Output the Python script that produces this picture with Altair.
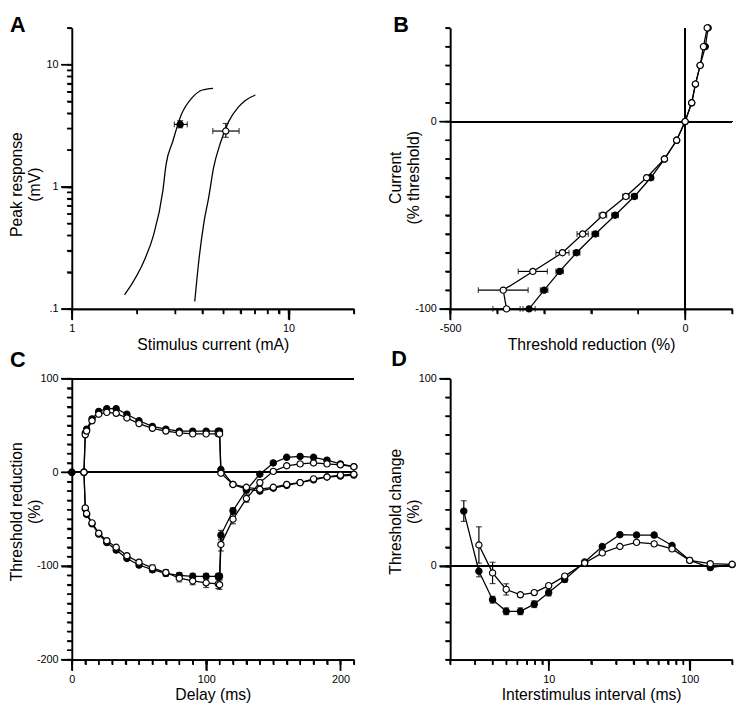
import altair as alt
import pandas as pd

FONT = "Liberation Sans"
W, H = 287, 286

# ---------------- Panel A : stimulus-response curves ----------------
a_curve1_x = [1.75, 2.18, 2.37, 2.63, 2.72, 2.92, 3.19, 3.60, 4.00, 4.48]
a_curve1_y = [0.13, 0.26, 0.39, 0.93, 1.52, 2.35, 3.85, 5.40, 6.20, 6.40]
a_curve2_x = [3.69, 3.86, 4.06, 4.28, 4.51, 4.84, 5.28, 5.86, 6.29, 7.03]
a_curve2_y = [0.115, 0.255, 0.50, 0.82, 1.44, 2.27, 3.40, 4.49, 5.07, 5.64]
a_pt_kind = ["filled", "open"]
a_pt_x = [3.16, 5.13]
a_pt_y = [3.24, 2.86]
a_pt_xlo = [2.97, 4.47]
a_pt_xhi = [3.41, 5.91]
a_pt_ylo = [3.04, 2.54]
a_pt_yhi = [3.48, 3.30]

# ---------------- Panel B : current-threshold relationship ----------------
b_current = [50, 40, 30, 20, 10, 0, -10, -20, -30, -40, -50, -60, -70, -80, -90, -100]
b_filled = [49, 43, 32, 22, 14, 0, -18, -44, -73, -108, -149, -191, -231, -267, -300, -332]
b_filled_err = [2, 2, 2, 2, 2, 0, 2, 3, 5, 6, 7, 7, 7, 8, 8, 13]
b_open = [47, 39, 32, 22, 14, 0, -18, -44, -82, -126, -175, -218, -261, -324, -387, -380]
b_open_err = [2, 2, 2, 2, 2, 0, 3, 3, 4, 7, 8, 12, 14, 31, 53, 29]

# ---------------- Panel C : threshold electrotonus ----------------
c_delay = [0, 9, 10, 11, 15, 20, 26, 33, 41, 50, 60, 70, 80, 90, 100, 109, 110, 111,
           120, 130, 140, 150, 160, 170, 180, 190, 200, 210]
c_ted_filled = [0, 0, 42, 46, 57, 65, 68, 68, 62, 55, 49, 46, 44, 44, 44, 44, 44, 3,
                -13, -18, -20, -17, -14, -11, -8, -5, -4, -3]
c_teh_filled = [0, 0, -39, -45, -55, -66, -75, -83, -92, -99, -104, -108, -110, -111, -111, -111, -111, -67,
                -41, -19, -2, 10, 16, 17, 16, 13, 9, 6]
c_teh_filled_err = [0, 0, 1, 1, 1, 1, 1, 2, 2, 2, 3, 3, 3, 3, 3, 3, 3, 5,
                    3, 3, 2, 2, 1, 1, 1, 1, 1, 1]
# open series start at 9 ms
c_ted_open = [0, 40, 44, 55, 62, 64, 63, 58, 52, 47, 44, 42, 41, 41, 41, 41, -1,
              -13, -16, -18, -16, -13, -11, -7, -5, -3, -2]
c_teh_open = [0, -38, -44, -54, -65, -73, -80, -89, -96, -102, -107, -113, -116, -118, -119, -120, -77,
              -50, -28, -11, 1, 7, 9, 10, 9, 8, 6]
c_teh_open_err = [0, 1, 1, 1, 1, 1, 1, 2, 2, 3, 3, 4, 4, 5, 5, 5, 7,
                  5, 4, 3, 2, 2, 2, 2, 2, 1, 1]

# ---------------- Panel D : recovery cycle ----------------
d_isi = [2.5, 3.2, 4, 5, 6.3, 7.9, 10, 13, 18, 24, 32, 42, 56, 75, 100, 140, 200]
d_filled = [29.3, -2.8, -18, -24.2, -24.2, -20.4, -14.2, -7.2, 2.1, 10.4, 16.7, 16.5, 16.5, 10.9, 3, -0.9, 0.7]
d_filled_err = [5.5, 3, 1.8, 1.8, 1.8, 1.8, 1.8, 1.5, 1, 1, 1, 1, 1, 1, 1, 1, 1]
d_isi_open = [3.2, 4, 5, 6.3, 7.9, 10, 13, 18, 24, 32, 42, 56, 75, 100, 140, 200]
d_open = [11.2, -3.7, -12.5, -15.4, -14.2, -10.5, -5.4, 1.6, 7, 10.4, 12.6, 11.8, 9.1, 3, 1.2, 0.9]
d_open_err = [9.7, 5.7, 3, 1, 1, 1, 1, 1, 1, 1, 1, 1, 1, 1, 1, 1]

# ---------------- axis ticks / labels ----------------
a_x_ticks = [1, 2, 3, 4, 5, 6, 7, 8, 9, 10, 20]
a_x_major = [1, 10]
a_x_labels = ["1", "10"]
a_y_ticks = [0.1, 0.2, 0.3, 0.4, 0.5, 0.6, 0.7, 0.8, 0.9, 1, 2, 3, 4, 5, 6, 7, 8, 9, 10, 20]
a_y_major = [0.1, 1, 10]
a_y_labels = [".1", "1", "10"]
b_x_ticks = [-500, -400, -300, -200, -100, 0, 100]
b_x_major = [-500, 0]
b_x_labels = ["-500", "0"]
b_y_ticks = list(range(-100, 51, 10))
b_y_major = [-100, 0]
b_y_labels = ["-100", "0"]
c_x_ticks = list(range(0, 211, 10))
c_x_major = [0, 100, 200]
c_x_labels = ["0", "100", "200"]
c_y_ticks = list(range(-200, 101, 10))
c_y_major = [-200, -100, 0, 100]
c_y_labels = ["-200", "-100", "0", "100"]
d_x_ticks = [2, 3, 4, 5, 6, 7, 8, 9, 10, 20, 30, 40, 50, 60, 70, 80, 90, 100, 200]
d_x_major = [10, 100]
d_x_labels = ["10", "100"]
d_y_ticks = list(range(-50, 101, 10))
d_y_major = [0, 100]
d_y_labels = ["0", "100"]
panel_letters = ["A", "B", "C", "D"]

MINOR, MAJOR = 5, 11
AXSTYLE = dict(domainColor="black", domainWidth=1.6, ticks=True, tickColor="black", tickWidth=1.5,
               tickOpacity=1, labelFont=FONT, labelFontSize=11, labelColor="black", labelPadding=3,
               labelFlush=False, labelOverlap=False, grid=False,
               titleFont=FONT, titleFontSize=16, titleFontWeight="normal", titleColor="black")


def label_expr(vals, texts):
    parts = [f"datum.value == {v} ? '{t}'" for v, t in zip(vals, texts)]
    return " : ".join(parts) + " : ''"


def axes(orient, ticks, major, texts, title, tx=None, ty=None):
    minor = alt.Axis(orient=orient, values=ticks, tickSize=MINOR, labels=False, title=None, **AXSTYLE)
    if orient == "left":
        kw = dict(titleX=tx, titleY=ty, titleAngle=-90, titleAlign="center",
                  titleBaseline="bottom", titleLineHeight=18)
    else:
        kw = dict(titlePadding=3)
    maj = alt.Axis(orient=orient, values=major, tickSize=MAJOR, labelExpr=label_expr(major, texts),
                   title=title, **kw, **AXSTYLE)
    return minor, maj


def tick_marks(xs, ys, x_ticks, x_major, y_ticks, y_major):
    """Axis tick marks (minor and major) at the scale positions of the tick values."""
    out = []
    for vals, ln in ((x_ticks, MINOR), (x_major, MAJOR)):
        out.append(alt.Chart(pd.DataFrame({"v": [float(v) for v in vals]})).mark_tick(
            orient="vertical", color="black", thickness=1.5, size=ln, clip=False, opacity=1).encode(
            x=alt.X("v:Q", scale=xs, axis=None), y=alt.value(H + ln / 2)))
    for vals, ln in ((y_ticks, MINOR), (y_major, MAJOR)):
        out.append(alt.Chart(pd.DataFrame({"v": [float(v) for v in vals]})).mark_tick(
            orient="horizontal", color="black", thickness=1.5, size=ln, clip=False, opacity=1).encode(
            y=alt.Y("v:Q", scale=ys, axis=None), x=alt.value(-ln / 2)))
    return out


def letter_layer(t, dx, dy):
    return alt.Chart(pd.DataFrame({"t": [t]})).mark_text(
        align="left", baseline="alphabetic", fontSize=22, fontWeight="bold", font=FONT, color="black"
    ).encode(text="t:N", x=alt.value(dx), y=alt.value(dy))


def series_df(kind, sid, xs, ys, errs=None):
    if errs is None:
        errs = [0] * len(xs)
    return pd.DataFrame({"x": xs, "y": ys, "kind": kind, "s": sid, "i": range(len(xs)),
                         "lo_y": [y - e for y, e in zip(ys, errs)],
                         "hi_y": [y + e for y, e in zip(ys, errs)],
                         "lo_x": [x - e for x, e in zip(xs, errs)],
                         "hi_x": [x + e for x, e in zip(xs, errs)],
                         "e": errs})


fill_enc = alt.Fill("kind:N", scale=alt.Scale(domain=["filled", "open"], range=["black", "white"]), legend=None)
LW = 1.3


def enc(ch, field, scale, axis=None):
    if ch == "x":
        return alt.X(f"{field}:Q", scale=scale, axis=axis)
    return alt.Y(f"{field}:Q", scale=scale, axis=axis)


def panel(df, xs, ys, xaxes, yaxes, err_dir, refs, ticks, letter):
    base = alt.Chart(df)
    layers = []
    for kind, val in refs:
        if kind == "v":
            layers.append(base.mark_rule(color="black", strokeWidth=1.3).encode(
                x=alt.datum(val, scale=xs, axis=None)))
        else:
            layers.append(base.mark_rule(color="black", strokeWidth=1.3).encode(
                y=alt.datum(val, scale=ys, axis=None)))
    layers.append(base.mark_line(color="black", strokeWidth=LW).encode(
        x=enc("x", "x", xs, xaxes[0]), y=enc("y", "y", ys, yaxes[0]), detail="s:N", order="i:Q"))
    errdf = base.transform_filter("datum.e > 0")
    tk = dict(color="black", size=6, thickness=1.2)
    if err_dir == "y":
        layers += [
            errdf.mark_rule(color="black", strokeWidth=1.2).encode(
                x=enc("x", "x", xs), y=enc("y", "lo_y", ys), y2="hi_y:Q"),
            errdf.mark_tick(orient="horizontal", **tk).encode(x=enc("x", "x", xs), y=enc("y", "lo_y", ys)),
            errdf.mark_tick(orient="horizontal", **tk).encode(x=enc("x", "x", xs), y=enc("y", "hi_y", ys)),
        ]
    else:
        layers += [
            errdf.mark_rule(color="black", strokeWidth=1.2).encode(
                y=enc("y", "y", ys), x=enc("x", "lo_x", xs), x2="hi_x:Q"),
            errdf.mark_tick(orient="vertical", **tk).encode(y=enc("y", "y", ys), x=enc("x", "lo_x", xs)),
            errdf.mark_tick(orient="vertical", **tk).encode(y=enc("y", "y", ys), x=enc("x", "hi_x", xs)),
        ]
    layers.append(base.mark_point(shape="circle", filled=True, size=40, stroke="black", strokeWidth=1.2,
                                  opacity=1).encode(x=enc("x", "x", xs, xaxes[1]),
                                                    y=enc("y", "y", ys, yaxes[1]), fill=fill_enc))
    layers += tick_marks(xs, ys, *ticks)
    layers.append(letter)
    return alt.layer(*layers).resolve_axis(x="independent", y="independent")


# ---------------- Panel A ----------------
a_xs = alt.Scale(type="log", domain=[1, 20], nice=False)
a_ys = alt.Scale(type="log", domain=[0.1, 20], nice=False)
a_xax = axes("bottom", a_x_ticks, a_x_major, a_x_labels, "Stimulus current (mA)")
a_yax = axes("left", a_y_ticks, a_y_major, a_y_labels, ["Peak response", "(mV)"], -48, 159)
a_curves = pd.concat([
    pd.DataFrame({"x": a_curve1_x, "y": a_curve1_y, "c": "c1", "i": range(len(a_curve1_x))}),
    pd.DataFrame({"x": a_curve2_x, "y": a_curve2_y, "c": "c2", "i": range(len(a_curve2_x))}),
])
a_pts = pd.DataFrame({"x": a_pt_x, "y": a_pt_y, "kind": a_pt_kind, "xlo": a_pt_xlo, "xhi": a_pt_xhi,
                      "ylo": a_pt_ylo, "yhi": a_pt_yhi})
ap = alt.Chart(a_pts)
tkA = dict(color="black", size=6, thickness=1.2)
a_layers = [
    alt.Chart(a_curves).mark_line(color="black", strokeWidth=LW, interpolate="monotone").encode(
        x=enc("x", "x", a_xs, a_xax[0]), y=enc("y", "y", a_ys, a_yax[0]), detail="c:N", order="i:Q"),
    ap.mark_rule(color="black", strokeWidth=1.2).encode(x=enc("x", "xlo", a_xs), x2="xhi:Q", y=enc("y", "y", a_ys)),
    ap.mark_rule(color="black", strokeWidth=1.2).encode(y=enc("y", "ylo", a_ys), y2="yhi:Q", x=enc("x", "x", a_xs)),
    ap.mark_tick(orient="vertical", **tkA).encode(x=enc("x", "xlo", a_xs), y=enc("y", "y", a_ys)),
    ap.mark_tick(orient="vertical", **tkA).encode(x=enc("x", "xhi", a_xs), y=enc("y", "y", a_ys)),
    ap.mark_tick(orient="horizontal", **tkA).encode(x=enc("x", "x", a_xs), y=enc("y", "ylo", a_ys)),
    ap.mark_tick(orient="horizontal", **tkA).encode(x=enc("x", "x", a_xs), y=enc("y", "yhi", a_ys)),
    ap.mark_point(shape="circle", filled=True, size=40, stroke="black", strokeWidth=1.2, opacity=1).encode(
        x=enc("x", "x", a_xs, a_xax[1]), y=enc("y", "y", a_ys, a_yax[1]), fill=fill_enc),
] + tick_marks(a_xs, a_ys, a_x_ticks, a_x_major, a_y_ticks, a_y_major) + [
    letter_layer(panel_letters[0], -63, 4)]
chart_a = alt.layer(*a_layers).resolve_axis(x="independent", y="independent").properties(width=W, height=H)

# ---------------- Panel B ----------------
b_xs = alt.Scale(domain=[-500, 100], nice=False, zero=False)
b_ys = alt.Scale(domain=[-100, 50], nice=False, zero=False)
b_xax = axes("bottom", b_x_ticks, b_x_major, b_x_labels, "Threshold reduction (%)")
b_yax = axes("left", b_y_ticks, b_y_major, b_y_labels, ["Current", "(% threshold)"], -47, 152)
b_df = pd.concat([series_df("filled", "bf", b_filled, b_current, b_filled_err),
                  series_df("open", "bo", b_open, b_current, b_open_err)])
chart_b = panel(b_df, b_xs, b_ys, b_xax, b_yax, "x", [("v", 0), ("h", 0)],
                (b_x_ticks, b_x_major, b_y_ticks, b_y_major),
                letter_layer(panel_letters[1], -58, 4)).properties(width=W, height=H)

# ---------------- Panel C ----------------
c_xs = alt.Scale(domain=[0, 210], nice=False, zero=False)
c_ys = alt.Scale(domain=[-200, 100], nice=False, zero=False)
c_xax = axes("bottom", c_x_ticks, c_x_major, c_x_labels, "Delay (ms)")
c_yax = axes("left", c_y_ticks, c_y_major, c_y_labels, ["Threshold reduction", "(%)"], -48, 135)
c_df = pd.concat([
    series_df("filled", "tedf", c_delay, c_ted_filled),
    series_df("filled", "tehf", c_delay, c_teh_filled, c_teh_filled_err),
    series_df("open", "tedo", c_delay[1:], c_ted_open),
    series_df("open", "teho", c_delay[1:], c_teh_open, c_teh_open_err),
])
chart_c = panel(c_df, c_xs, c_ys, c_xax, c_yax, "y", [("h", 0), ("h", 100)],
                (c_x_ticks, c_x_major, c_y_ticks, c_y_major),
                letter_layer(panel_letters[2], -63, -12)).properties(width=W, height=H)

# ---------------- Panel D ----------------
d_xs = alt.Scale(type="log", domain=[2, 200], nice=False)
d_ys = alt.Scale(domain=[-50, 100], nice=False, zero=False)
d_xax = axes("bottom", d_x_ticks, d_x_major, d_x_labels, "Interstimulus interval (ms)")
d_yax = axes("left", d_y_ticks, d_y_major, d_y_labels, ["Threshold change", "(%)"], -47, 135)
d_df = pd.concat([series_df("filled", "df", d_isi, d_filled, d_filled_err),
                  series_df("open", "do", d_isi_open, d_open, d_open_err)])
chart_d = panel(d_df, d_xs, d_ys, d_xax, d_yax, "y", [("h", 0)],
                (d_x_ticks, d_x_major, d_y_ticks, d_y_major),
                letter_layer(panel_letters[3], -60, -13)).properties(width=W, height=H)

chart = alt.concat(chart_a, chart_b, chart_c, chart_d, columns=2,
                   spacing={"row": 71, "column": 98}, bounds="flush").properties(
    padding={"left": 0, "top": 0, "right": 0, "bottom": 0}
).configure_view(stroke=None).configure_axis(**AXSTYLE)

chart.save("out.html", embed_options={"renderer": "svg", "actions": False})
